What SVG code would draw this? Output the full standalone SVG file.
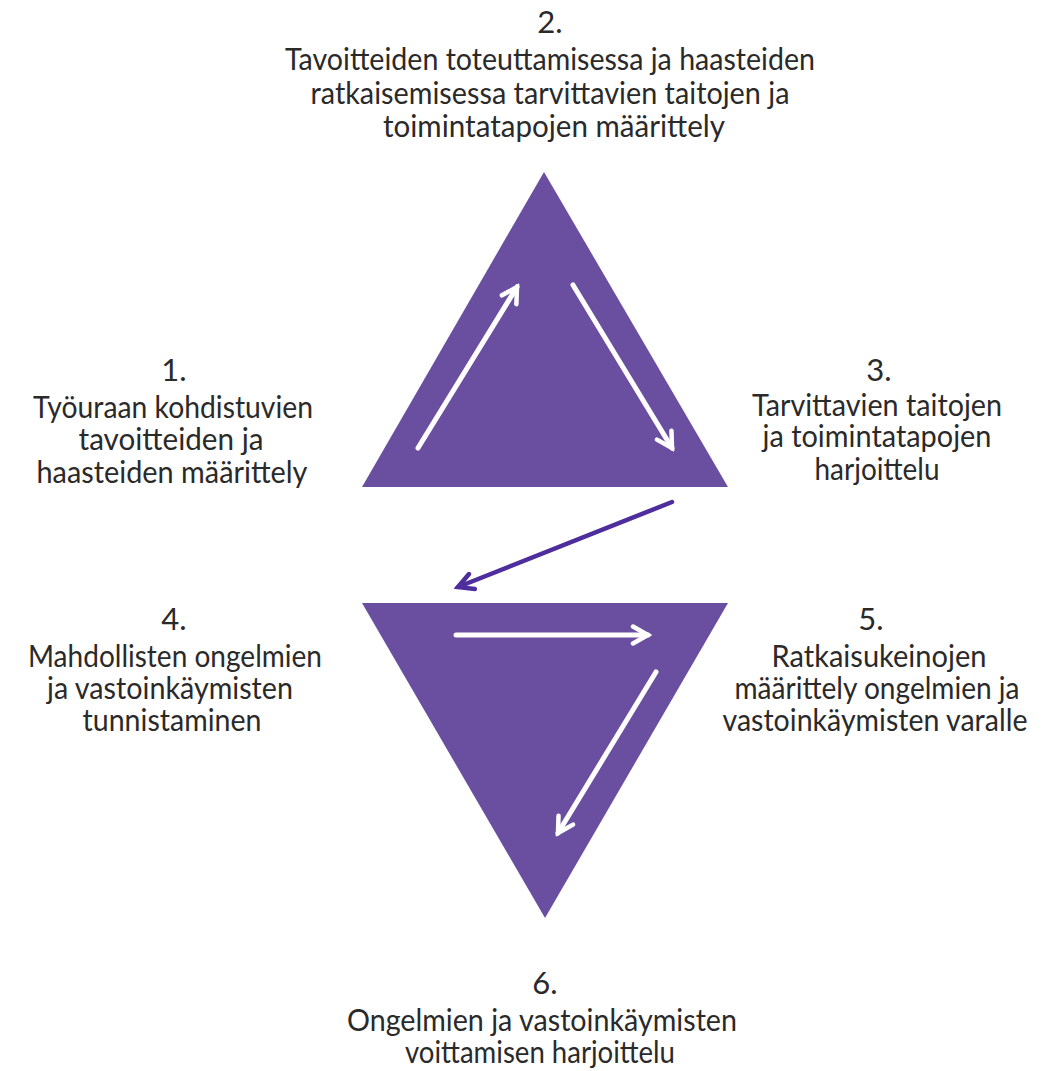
<svg xmlns="http://www.w3.org/2000/svg" width="1051" height="1071" viewBox="0 0 1051 1071">
  <style>
    .bg { fill: #ffffff; }
    .tri { fill: #6a4fa1; }
    .flow { fill: none; stroke: #ffffff; stroke-width: 5; stroke-linecap: round; }
    .link { fill: none; stroke: #4e2d9c; stroke-width: 4.5; stroke-linecap: round; }
    .lbl { font-family: "Lato", "Liberation Sans", sans-serif; font-size: 31px; fill: #2a2a2a; text-anchor: middle; }
  </style>
  <defs>
    <marker id="headWhite" markerUnits="userSpaceOnUse" viewBox="-18 -12 22 24" markerWidth="22" markerHeight="24" refX="0" refY="0" orient="auto">
      <path d="M-15,-8.5 L0,0 L-15,8.5" fill="none" stroke="#ffffff" stroke-width="4.5" stroke-linecap="round" stroke-linejoin="miter"/>
    </marker>
    <marker id="headPurple" markerUnits="userSpaceOnUse" viewBox="-18 -12 22 24" markerWidth="22" markerHeight="24" refX="0" refY="0" orient="auto">
      <path d="M-15,-8 L0,0 L-15,8" fill="none" stroke="#4e2d9c" stroke-width="4.5" stroke-linecap="round" stroke-linejoin="miter"/>
    </marker>
  </defs>

  <rect class="bg" x="0" y="0" width="1051" height="1071"/>

  <!-- upper triangle: steps 1 to 3 -->
  <g id="triangle-upper">
    <polygon class="tri" points="544,172 362,487 728,487"/>
    <line class="flow" x1="418" y1="448" x2="517" y2="287" marker-end="url(#headWhite)"/>
    <line class="flow" x1="573" y1="285" x2="672" y2="448" marker-end="url(#headWhite)"/>
  </g>

  <!-- lower triangle: steps 4 to 6 -->
  <g id="triangle-lower">
    <polygon class="tri" points="362,603 728,603 545,918"/>
    <line class="flow" x1="456" y1="635" x2="648" y2="635" marker-end="url(#headWhite)"/>
    <line class="flow" x1="656" y1="672" x2="558" y2="833" marker-end="url(#headWhite)"/>
  </g>

  <!-- connector from step 3 to step 4 -->
  <g id="connectors">
    <line class="link" x1="672" y1="502" x2="458" y2="587" marker-end="url(#headPurple)"/>
  </g>

  <g id="step-2">
    <text class="lbl" x="550" y="33">2.</text>
    <text class="lbl" x="550" y="70" textLength="530" lengthAdjust="spacingAndGlyphs">Tavoitteiden toteuttamisessa ja haasteiden</text>
    <text class="lbl" x="550" y="104" textLength="479" lengthAdjust="spacingAndGlyphs">ratkaisemisessa tarvittavien taitojen ja</text>
    <text class="lbl" x="554" y="137" textLength="342" lengthAdjust="spacingAndGlyphs">toimintatapojen määrittely</text>
  </g>

  <g id="step-1">
    <text class="lbl" x="174" y="381">1.</text>
    <text class="lbl" x="173" y="418" textLength="280" lengthAdjust="spacingAndGlyphs">Työuraan kohdistuvien</text>
    <text class="lbl" x="171" y="450" textLength="185" lengthAdjust="spacingAndGlyphs">tavoitteiden ja</text>
    <text class="lbl" x="172" y="483" textLength="271" lengthAdjust="spacingAndGlyphs">haasteiden määrittely</text>
  </g>

  <g id="step-3">
    <text class="lbl" x="879" y="381">3.</text>
    <text class="lbl" x="877" y="416" textLength="250" lengthAdjust="spacingAndGlyphs">Tarvittavien taitojen</text>
    <text class="lbl" x="877" y="447" textLength="229" lengthAdjust="spacingAndGlyphs">ja toimintatapojen</text>
    <text class="lbl" x="877" y="480" textLength="125" lengthAdjust="spacingAndGlyphs">harjoittelu</text>
  </g>

  <g id="step-4">
    <text class="lbl" x="174" y="630">4.</text>
    <text class="lbl" x="175" y="667" textLength="294" lengthAdjust="spacingAndGlyphs">Mahdollisten ongelmien</text>
    <text class="lbl" x="170" y="699" textLength="246" lengthAdjust="spacingAndGlyphs">ja vastoinkäymisten</text>
    <text class="lbl" x="172" y="731" textLength="179" lengthAdjust="spacingAndGlyphs">tunnistaminen</text>
  </g>

  <g id="step-5">
    <text class="lbl" x="871" y="630">5.</text>
    <text class="lbl" x="879" y="667" textLength="215" lengthAdjust="spacingAndGlyphs">Ratkaisukeinojen</text>
    <text class="lbl" x="877" y="699" textLength="285" lengthAdjust="spacingAndGlyphs">määrittely ongelmien ja</text>
    <text class="lbl" x="875" y="731" textLength="305" lengthAdjust="spacingAndGlyphs">vastoinkäymisten varalle</text>
  </g>

  <g id="step-6">
    <text class="lbl" x="545" y="994">6.</text>
    <text class="lbl" x="542" y="1031" textLength="390" lengthAdjust="spacingAndGlyphs">Ongelmien ja vastoinkäymisten</text>
    <text class="lbl" x="540" y="1063" textLength="270" lengthAdjust="spacingAndGlyphs">voittamisen harjoittelu</text>
  </g>
</svg>
